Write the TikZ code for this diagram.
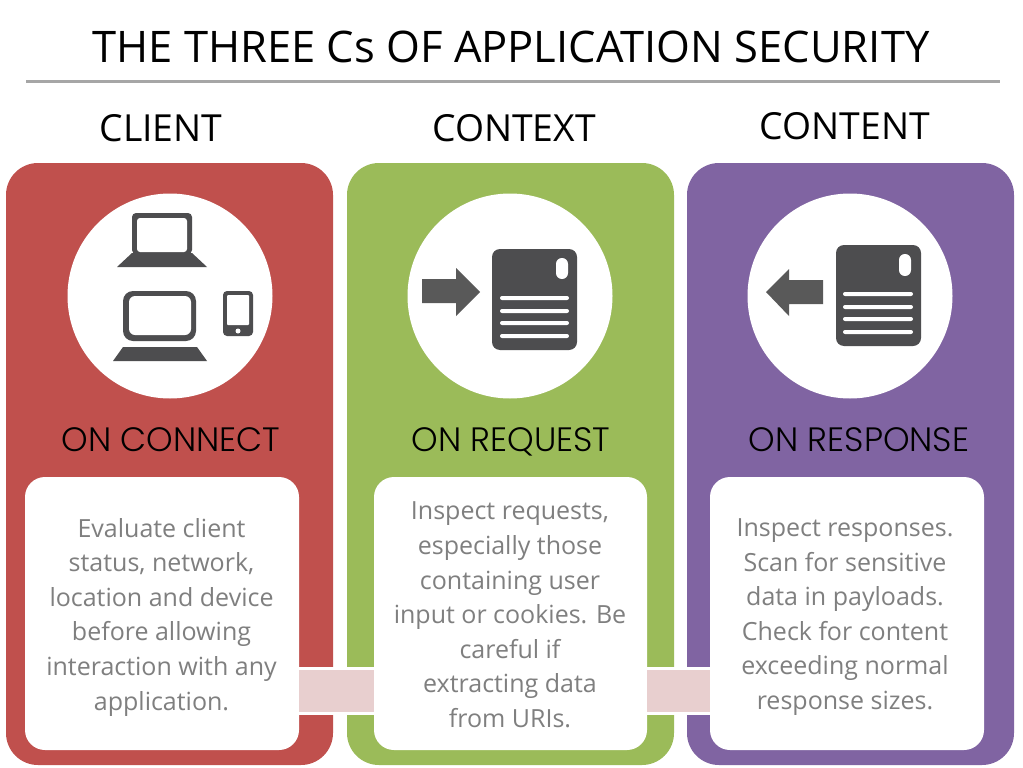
\documentclass[tikz,border=0pt]{standalone}
\usepackage{fontspec}
\setmainfont{Open Sans}
\newfontfamily\geofont{Poppins Light}
\definecolor{cred}{HTML}{C0504D}
\definecolor{cgreen}{HTML}{9BBB59}
\definecolor{cpurple}{HTML}{8064A2}
\definecolor{cpink}{HTML}{E8CFCF}
\definecolor{cicon}{HTML}{4D4D4F}
\definecolor{carrow}{HTML}{595959}
\definecolor{cbody}{HTML}{7F7F7F}
\definecolor{crule}{HTML}{A6A6A6}
\tikzset{
  x=1pt,y=-1pt,
  panel/.style={rectangle,rounded corners=32pt,minimum width=327pt,minimum height=602pt,inner sep=0pt},
  card/.style={rectangle,rounded corners=20pt,fill=white,minimum height=273pt,inner sep=0pt},
  disc/.style={circle,fill=white,minimum size=205pt,inner sep=0pt},
  heading/.style={font=\fontsize{37.3}{42}\selectfont,text=black,inner sep=0pt,anchor=base},
  sub/.style={font=\geofont\fontsize{33.8}{38}\selectfont,text=black,inner sep=0pt,anchor=base},
  body/.style={font=\fontsize{25}{34.6}\selectfont,text=cbody,align=center,inner sep=0pt},
  bridge/.style={fill=cpink,draw=none},
  icon/.style={fill=cicon,draw=none},
  hole/.style={fill=white,draw=none},
  arrowshape/.style={fill=carrow,draw=none},
}
\begin{document}
\begin{tikzpicture}
\useasboundingbox (0,0) rectangle (1023,768);
\fill[white] (0,0) rectangle (1023,768);
\node[font=\fontsize{43.5}{50}\selectfont,inner sep=0pt] (title) at (511,47) {THE THREE Cs OF APPLICATION SECURITY};
\coordinate (ruleL) at (26,82);
\coordinate (ruleR) at (1000,82);
\draw[crule,line width=3pt] (ruleL) -- (ruleR);

\node[panel,fill=cred]    (p1) at (169.5,464) {};
\node[panel,fill=cgreen]  (p2) at (510.5,464) {};
\node[panel,fill=cpurple] (p3) at (850.5,464) {};

\node[heading] (h1) at (161,141) {CLIENT};
\node[heading] (h2) at (514,141) {CONTEXT};
\node[heading] (h3) at (845,139) {CONTENT};

\node[disc] (d1) at (170,296) {};
\node[disc] (d2) at (510,296) {};
\node[disc] (d3) at (850,296) {};

\node[sub] (s1) at (171,451) {ON CONNECT};
\node[sub] (s2) at (511,451) {ON REQUEST};
\node[sub] (s3) at (859,451) {ON RESPONSE};

\node[card,minimum width=274pt] (c1) at (162,613.5) {};
\node[card,minimum width=273pt] (c2) at (510.5,613.5) {};
\node[card,minimum width=274pt] (c3) at (847,613.5) {};

\fill[white] (c1.east |- 0,666.5) rectangle (c2.west |- 0,714.5);
\fill[white] (c2.east |- 0,666.5) rectangle (c3.west |- 0,714.5);
\fill[bridge] (c1.east |- 0,669.5) rectangle (c2.west |- 0,711.5);
\fill[bridge] (c2.east |- 0,669.5) rectangle (c3.west |- 0,711.5);

\node[body] (t1) at (161.5,617) {Evaluate client\\status, network,\\location and device\\before allowing\\interaction with any\\application.};
\node[body] (t2) at (510,615) {Inspect requests,\\especially those\\containing user\\input or cookies. Be\\careful if\\extracting data\\from URIs.};
\node[body] (t3) at (845,617) {Inspect responses.\\Scan for sensitive\\data in payloads.\\Check for content\\exceeding normal\\response sizes.};

% client icons
\fill[icon,rounded corners=4pt] (132,213) rectangle (192,254);
\fill[hole,rounded corners=3pt] (137,218) rectangle (187,252);
\fill[icon] (132,253) -- (192,253) -- (207,267) -- (117,267) -- cycle;
\fill[icon,rounded corners=10pt] (123,291) rectangle (196,341);
\fill[hole,rounded corners=6pt] (129,296) rectangle (191,335);
\fill[icon] (123,347) -- (197,347) -- (207,361) -- (113,361) -- cycle;
\fill[icon,rounded corners=4pt] (223,291) rectangle (253,336);
\fill[hole,rounded corners=1pt] (227,295) rectangle (249,325);
\fill[hole] (238,331) circle (2.5pt);

% request icons
\fill[arrowshape] (422,279) -- (456,279) -- (456,268) -- (480,292) -- (456,316) -- (456,303) -- (422,303) -- cycle;
\fill[icon,rounded corners=8pt] (492,249) rectangle (577,350);
\fill[hole,rounded corners=5.9pt] (556,258) rectangle (568,279);
\foreach \yy in {298,311,323,336}
  \fill[hole,rounded corners=2pt] (500,\yy-2) rectangle (569,\yy+2);

% response icons
\fill[arrowshape] (823,280) -- (789,280) -- (789,269) -- (766,292) -- (789,316) -- (789,304) -- (823,304) -- cycle;
\fill[icon,rounded corners=8pt] (836,245) rectangle (921,346);
\fill[hole,rounded corners=5.9pt] (899,254) rectangle (911,276);
\foreach \yy in {294,307,319,332}
  \fill[hole,rounded corners=2pt] (843,\yy-2) rectangle (913,\yy+2);
\end{tikzpicture}
\end{document}
